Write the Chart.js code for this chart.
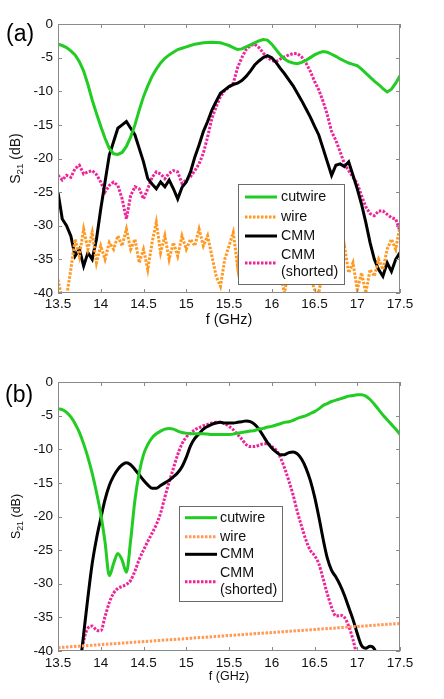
<!DOCTYPE html>
<html>
<head>
<meta charset="utf-8">
<script src="https://cdn.jsdelivr.net/npm/chart.js@4.4.1/dist/chart.umd.min.js"></script>
<style>
body { margin: 0; background: #fff; }
canvas { position: absolute; left: 0; }
#chartA { top: 0; }
#chartB { top: 345px; }
</style>
</head>
<body>
<canvas id="chartA" width="444" height="345"></canvas>
<canvas id="chartB" width="444" height="354"></canvas>
<script>
// frequency grid (GHz), shared by both panels
var freq = [13.5, 13.55, 13.6, 13.65, 13.7, 13.75, 13.8, 13.85, 13.9, 13.95,
    14.0, 14.05, 14.1, 14.15, 14.2, 14.25, 14.3, 14.35, 14.4, 14.45,
    14.5, 14.55, 14.6, 14.65, 14.7, 14.75, 14.8, 14.85, 14.9, 14.95,
    15.0, 15.05, 15.1, 15.15, 15.2, 15.25, 15.3, 15.35, 15.4, 15.45,
    15.5, 15.55, 15.6, 15.65, 15.7, 15.75, 15.8, 15.85, 15.9, 15.95,
    16.0, 16.05, 16.1, 16.15, 16.2, 16.25, 16.3, 16.35, 16.4, 16.45,
    16.5, 16.55, 16.6, 16.65, 16.7, 16.75, 16.8, 16.85, 16.9, 16.95,
    17.0, 17.05, 17.1, 17.15, 17.2, 17.25, 17.3, 17.35, 17.4, 17.45, 17.5];

var xTicks = [13.5, 14, 14.5, 15, 15.5, 16, 16.5, 17, 17.5];
var yTicks = [-40, -35, -30, -25, -20, -15, -10, -5, 0];

// (a) measured
var cutwireA = [-3.0, -3.2, -3.5, -4.0, -4.6, -5.6, -7.0, -9.0, -11.3, -13.3,
    -15.2, -17.0, -18.5, -19.3, -19.4, -19.1, -18.2, -16.8, -15.0, -12.8,
    -10.8, -9.2, -7.8, -6.7, -5.8, -5.1, -4.6, -4.2, -3.8, -3.6,
    -3.4, -3.2, -3.0, -2.9, -2.8, -2.75, -2.7, -2.75, -2.8, -3.0,
    -3.2, -3.5, -3.8, -3.7, -3.4, -3.1, -2.8, -2.5, -2.3, -2.4,
    -3.0, -3.8, -4.6, -5.2, -5.6, -5.8, -5.9, -5.7, -5.4, -5.0,
    -4.6, -4.3, -4.1, -4.2, -4.5, -4.8, -5.2, -5.5, -5.8, -6.0,
    -6.2, -6.7, -7.3, -7.9, -8.5, -9.0, -9.6, -10.1, -9.7, -8.8, -7.7];
var wireA = [-38.0, -41.0, -40.5, -36.5, -32.0, -34.5, -30.5, -33.5, -31.0, -35.5,
    -33.0, -35.0, -32.5, -33.5, -31.5, -33.0, -30.5, -33.5, -32.0, -35.5,
    -33.5, -36.5, -32.5, -29.5, -34.0, -31.5, -35.0, -32.5, -34.5, -31.5,
    -33.5, -32.0, -33.0, -30.5, -33.0, -31.5, -34.5, -37.5, -39.0, -35.0,
    -33.0, -31.0, -36.0, -30.5, -34.5, -33.0, -35.0, -32.5, -34.0, -33.0,
    -35.5, -34.0, -37.5, -40.0, -36.0, -33.5, -35.0, -33.0, -36.0, -37.5,
    -39.5, -40.0, -36.5, -34.0, -33.5, -31.0, -35.0, -33.0, -37.0, -35.5,
    -39.5, -37.0, -40.0, -36.5, -37.5, -35.0, -36.5, -33.5, -32.0, -33.5, -30.0];
var cmmA = [-25.0, -29.0, -30.0, -31.5, -34.5, -33.5, -36.0, -34.0, -35.0, -32.0,
    -27.5, -23.5, -19.5, -17.5, -15.5, -15.0, -14.5, -15.5, -16.5, -18.5,
    -20.5, -23.0, -23.8, -24.5, -23.5, -24.2, -23.2, -24.5, -26.0, -24.3,
    -23.5, -22.0, -19.8, -18.0, -16.0, -14.5, -12.8, -11.5, -10.3, -9.8,
    -9.3, -9.0, -8.8, -8.4, -7.8, -7.0, -6.1, -5.5, -5.0, -4.7,
    -5.0, -5.7, -6.6, -7.4, -8.3, -9.2, -10.3, -11.4, -12.6, -13.8,
    -15.2, -16.5, -18.5, -20.5, -22.5, -21.0, -20.8, -21.2, -20.5, -22.5,
    -24.5, -26.8, -29.5, -32.5, -35.0, -36.5, -37.5, -35.5, -36.8, -35.0, -34.0];
var shortedA = [-22.5, -23.2, -22.5, -22.8, -21.5, -21.0, -22.3, -22.0, -21.8, -22.4,
    -23.5, -25.0, -24.0, -23.5, -24.0, -26.0, -29.0, -25.5, -24.2, -24.5,
    -26.0, -24.5, -22.8, -22.0, -22.3, -23.0, -22.2, -21.8, -22.0, -23.7,
    -23.2, -22.7, -21.8, -20.8, -19.2, -16.8, -14.0, -12.3, -10.8, -9.9,
    -9.4, -8.8, -6.5, -5.0, -3.8, -3.2, -3.0, -3.5, -4.3, -5.0,
    -5.4, -5.6, -5.2, -4.9, -4.6, -4.4, -4.4, -4.9, -5.8, -7.0,
    -8.5, -9.8, -11.5, -13.5, -16.0, -17.3, -19.0, -20.8, -21.8, -22.8,
    -23.7, -25.5, -27.2, -28.2, -28.5, -27.8, -27.8, -28.3, -28.8, -29.0, -30.8];

// (b) simulated
var cutwireB = [-4.0, -4.1, -4.5, -5.2, -6.2, -7.5, -9.2, -11.2, -13.6, -16.4,
    -19.6, -23.8, -28.8, -27.0, -25.5, -26.5, -28.3, -23.5, -17.5, -13.5,
    -10.8, -9.3, -8.3, -7.7, -7.3, -7.0, -6.9, -7.0, -7.3, -7.5,
    -7.6, -7.7, -7.7, -7.7, -7.7, -7.75, -7.8, -7.8, -7.8, -7.8,
    -7.8, -7.75, -7.6, -7.5, -7.4, -7.3, -7.2, -7.0, -6.9, -6.7,
    -6.6, -6.4, -6.2, -6.0, -5.9, -5.7, -5.4, -5.2, -5.0, -4.7,
    -4.4, -4.0, -3.5, -3.2, -2.9, -2.7, -2.5, -2.3, -2.1, -2.0,
    -1.9, -1.9, -2.1, -2.6, -3.3, -4.1, -4.9, -5.6, -6.3, -7.0, -7.8];
var wireBf = [13.5, 17.5];
var wireB = [-39.5, -35.9];
var cmmB = [null, null, null, null, null, -43.0, -37.5, -32.0, -27.0, -23.3,
    -20.3, -17.5, -15.4, -14.0, -13.0, -12.3, -12.0, -12.3, -13.0, -13.8,
    -14.6, -15.3, -15.8, -15.8, -15.4, -15.0, -14.6, -14.1, -13.5, -12.6,
    -11.2, -9.5, -8.4, -7.7, -7.0, -6.6, -6.3, -6.1, -6.0, -6.1,
    -6.1, -6.1, -6.0, -5.9, -5.8, -5.9, -6.3, -7.0, -8.0, -9.0,
    -9.8, -10.4, -10.8, -10.8, -10.5, -10.4, -10.7, -11.5, -12.8, -14.6,
    -17.0, -20.0, -23.3, -26.2, -28.0, -29.0, -30.2, -31.7, -33.5, -35.3,
    -37.4, -39.2, -39.6, -39.3, -39.7, -41.5, null, null, null, null, null];
var shortedB = [null, null, null, null, null, -42.5, -38.5, -36.6, -36.3, -36.9,
    -37.0, -34.9, -32.8, -31.4, -30.7, -30.4, -30.1, -29.5, -28.1, -26.4,
    -25.0, -23.7, -22.5, -21.2, -19.5, -17.1, -14.9, -12.8, -10.8, -9.2,
    -8.2, -7.6, -7.1, -6.8, -6.5, -6.3, -6.1, -6.0, -6.0, -6.2,
    -6.6, -7.1, -7.8, -8.5, -9.3, -9.6, -9.6, -9.4, -9.2, -9.2,
    -9.6, -10.1, -11.2, -12.8, -14.7, -16.8, -19.3, -21.5, -23.5, -25.0,
    -25.8, -27.0, -29.2, -31.5, -33.5, -34.8, -34.7, -35.0, -36.3, -38.3,
    -41.0, null, null, null, null, null, null, null, null, null, null];

var FONT = '"Liberation Sans", Arial, Helvetica, sans-serif';
var GREEN = '#22cc22', ORANGE = '#ff9922', ORANGE_B = '#ff9955', PINK = '#ee2299', BLACK = '#000000';

function deco(o) {
    return {
        id: 'deco',
        afterDatasetsDraw: function (chart) {
            var ctx = chart.ctx, a = chart.chartArea, xs = chart.scales.x, ys = chart.scales.y;
            ctx.save();
            // box and inward ticks
            ctx.strokeStyle = '#8a8a8a';
            ctx.lineWidth = 1;
            ctx.strokeRect(a.left + 0.5, a.top + 0.5, a.right - a.left - 1, a.bottom - a.top - 1);
            ctx.beginPath();
            xs.ticks.forEach(function (t) {
                var px = Math.round(xs.getPixelForValue(t.value)) + 0.5;
                ctx.moveTo(px, a.top); ctx.lineTo(px, a.top + 4);
                ctx.moveTo(px, a.bottom); ctx.lineTo(px, a.bottom - 4);
            });
            ys.ticks.forEach(function (t) {
                var py = Math.round(ys.getPixelForValue(t.value)) + 0.5;
                ctx.moveTo(a.left, py); ctx.lineTo(a.left + 4, py);
                ctx.moveTo(a.right, py); ctx.lineTo(a.right - 4, py);
            });
            ctx.stroke();

            // legend
            var L = o.legend;
            ctx.fillStyle = '#fff';
            ctx.fillRect(L.x, L.y, L.w, L.h);
            ctx.strokeStyle = '#6a6a6a';
            ctx.strokeRect(L.x + 0.5, L.y + 0.5, L.w, L.h);
            ctx.font = L.font + 'px ' + FONT;
            ctx.textBaseline = 'middle';
            ctx.textAlign = 'left';
            chart.data.datasets.forEach(function (ds, i) {
                var ly = L.rows[i];
                ctx.beginPath();
                ctx.strokeStyle = ds.borderColor;
                ctx.lineWidth = ds.borderWidth;
                ctx.setLineDash(ds.borderDash || []);
                ctx.moveTo(L.x1, ly); ctx.lineTo(L.x2, ly);
                ctx.stroke();
                ctx.setLineDash([]);
                ctx.fillStyle = '#111';
                var lines = L.text[i];
                lines.forEach(function (s, k) { ctx.fillText(s, L.tx, L.ty[i][k]); });
            });

            // axis titles
            ctx.fillStyle = '#111';
            ctx.textAlign = 'center';
            ctx.font = o.xTitleFont + 'px ' + FONT;
            ctx.fillText('f (GHz)', (a.left + a.right) / 2, o.xTitleY);

            ctx.translate(o.yTitleX, (a.top + a.bottom) / 2);
            ctx.rotate(-Math.PI / 2);
            var f = o.yTitleFont, fs = f * 0.7;
            ctx.font = f + 'px ' + FONT;
            var wS = ctx.measureText('S').width, wR = ctx.measureText(' (dB)').width;
            ctx.font = fs + 'px ' + FONT;
            var w21 = ctx.measureText('21').width;
            var x0 = -(wS + w21 + wR) / 2;
            ctx.textAlign = 'left';
            ctx.font = f + 'px ' + FONT;
            ctx.fillText('S', x0, 0);
            ctx.font = fs + 'px ' + FONT;
            ctx.fillText('21', x0 + wS, f * 0.3);
            ctx.font = f + 'px ' + FONT;
            ctx.fillText(' (dB)', x0 + wS + w21, 0);
            ctx.setTransform(1, 0, 0, 1, 0, 0);

            // panel tag
            ctx.font = '23px ' + FONT;
            ctx.textAlign = 'left';
            ctx.fillStyle = '#000';
            ctx.fillText(o.tag, o.tagX, o.tagY);
            ctx.restore();
        }
    };
}

function makeOptions(top, xH, tickPad) {
    return {
        responsive: false,
        animation: false,
        devicePixelRatio: 1,
        layout: { padding: { left: 0, right: 44, top: top, bottom: 0 } },
        plugins: { legend: { display: false }, tooltip: { enabled: false } },
        elements: { point: { radius: 0 } },
        scales: {
            x: {
                type: 'linear', min: 13.5, max: 17.5,
                afterFit: function (s) { s.height = xH; },
                afterBuildTicks: function (s) { s.ticks = xTicks.map(function (v) { return { value: v }; }); },
                grid: { display: false, drawTicks: false },
                border: { display: false },
                ticks: { color: '#111', padding: tickPad, maxRotation: 0, autoSkip: false,
                    font: { family: FONT, size: 13.5 },
                    callback: function (v) { return String(v); } }
            },
            y: {
                type: 'linear', min: -40, max: 0,
                afterFit: function (s) { s.width = 58; },
                afterBuildTicks: function (s) { s.ticks = yTicks.map(function (v) { return { value: v }; }); },
                grid: { display: false, drawTicks: false },
                border: { display: false },
                ticks: { color: '#111', padding: 5, font: { family: FONT, size: 13.5 },
                    callback: function (v) { return String(v); } }
            }
        }
    };
}

var legendText = [['cutwire'], ['wire'], ['CMM'], ['CMM', '(shorted)']];

// Panel (a)
var ctxA = document.getElementById('chartA').getContext('2d');
var chartA = new Chart(ctxA, {
    type: 'line',
    data: {
        labels: freq,
        datasets: [
            { label: 'cutwire', data: cutwireA, borderColor: GREEN, borderWidth: 3, tension: 0 },
            { label: 'wire', data: wireA, borderColor: ORANGE, borderWidth: 3, borderDash: [2.5, 1.5], tension: 0 },
            { label: 'CMM', data: cmmA, borderColor: BLACK, borderWidth: 3, tension: 0 },
            { label: 'CMM (shorted)', data: shortedA, borderColor: PINK, borderWidth: 3, borderDash: [2.5, 1.5], tension: 0 }
        ]
    },
    options: makeOptions(24, 52, 3),
    plugins: [deco({
        tag: '(a)', tagX: 6, tagY: 35,
        xTitleY: 320, xTitleFont: 14.5, yTitleX: 16, yTitleFont: 14,
        legend: { x: 238, y: 184, w: 106, h: 100, x1: 245, x2: 277, tx: 281, font: 14.3,
            rows: [197, 217, 236, 263], text: legendText,
            ty: [[197], [217], [236], [255.5, 272.5]] }
    })]
});

// Panel (b)
var ctxB = document.getElementById('chartB').getContext('2d');
var chartB = new Chart(ctxB, {
    type: 'line',
    data: {
        labels: freq,
        datasets: [
            { label: 'cutwire', data: cutwireB, borderColor: GREEN, borderWidth: 3, cubicInterpolationMode: 'monotone' },
            { label: 'wire', data: wireBf.map(function (f, i) { return { x: f, y: wireB[i] }; }),
              borderColor: ORANGE_B, borderWidth: 3, borderDash: [2.5, 1.5], tension: 0 },
            { label: 'CMM', data: cmmB, borderColor: BLACK, borderWidth: 3, cubicInterpolationMode: 'monotone' },
            { label: 'CMM (shorted)', data: shortedB, borderColor: PINK, borderWidth: 3, borderDash: [2.5, 1.5], cubicInterpolationMode: 'monotone' }
        ]
    },
    options: makeOptions(37, 48, 4),
    plugins: [deco({
        tag: '(b)', tagX: 5, tagY: 51,
        xTitleY: 332, xTitleFont: 12.5, yTitleX: 17, yTitleFont: 12.5,
        legend: { x: 179, y: 161, w: 103, h: 95, x1: 185, x2: 217, tx: 220, font: 14.3,
            rows: [172.7, 191.7, 209.3, 236.7], text: legendText,
            ty: [[172.7], [191.7], [209.3], [228.3, 245]] }
    })]
});
</script>
</body>
</html>
